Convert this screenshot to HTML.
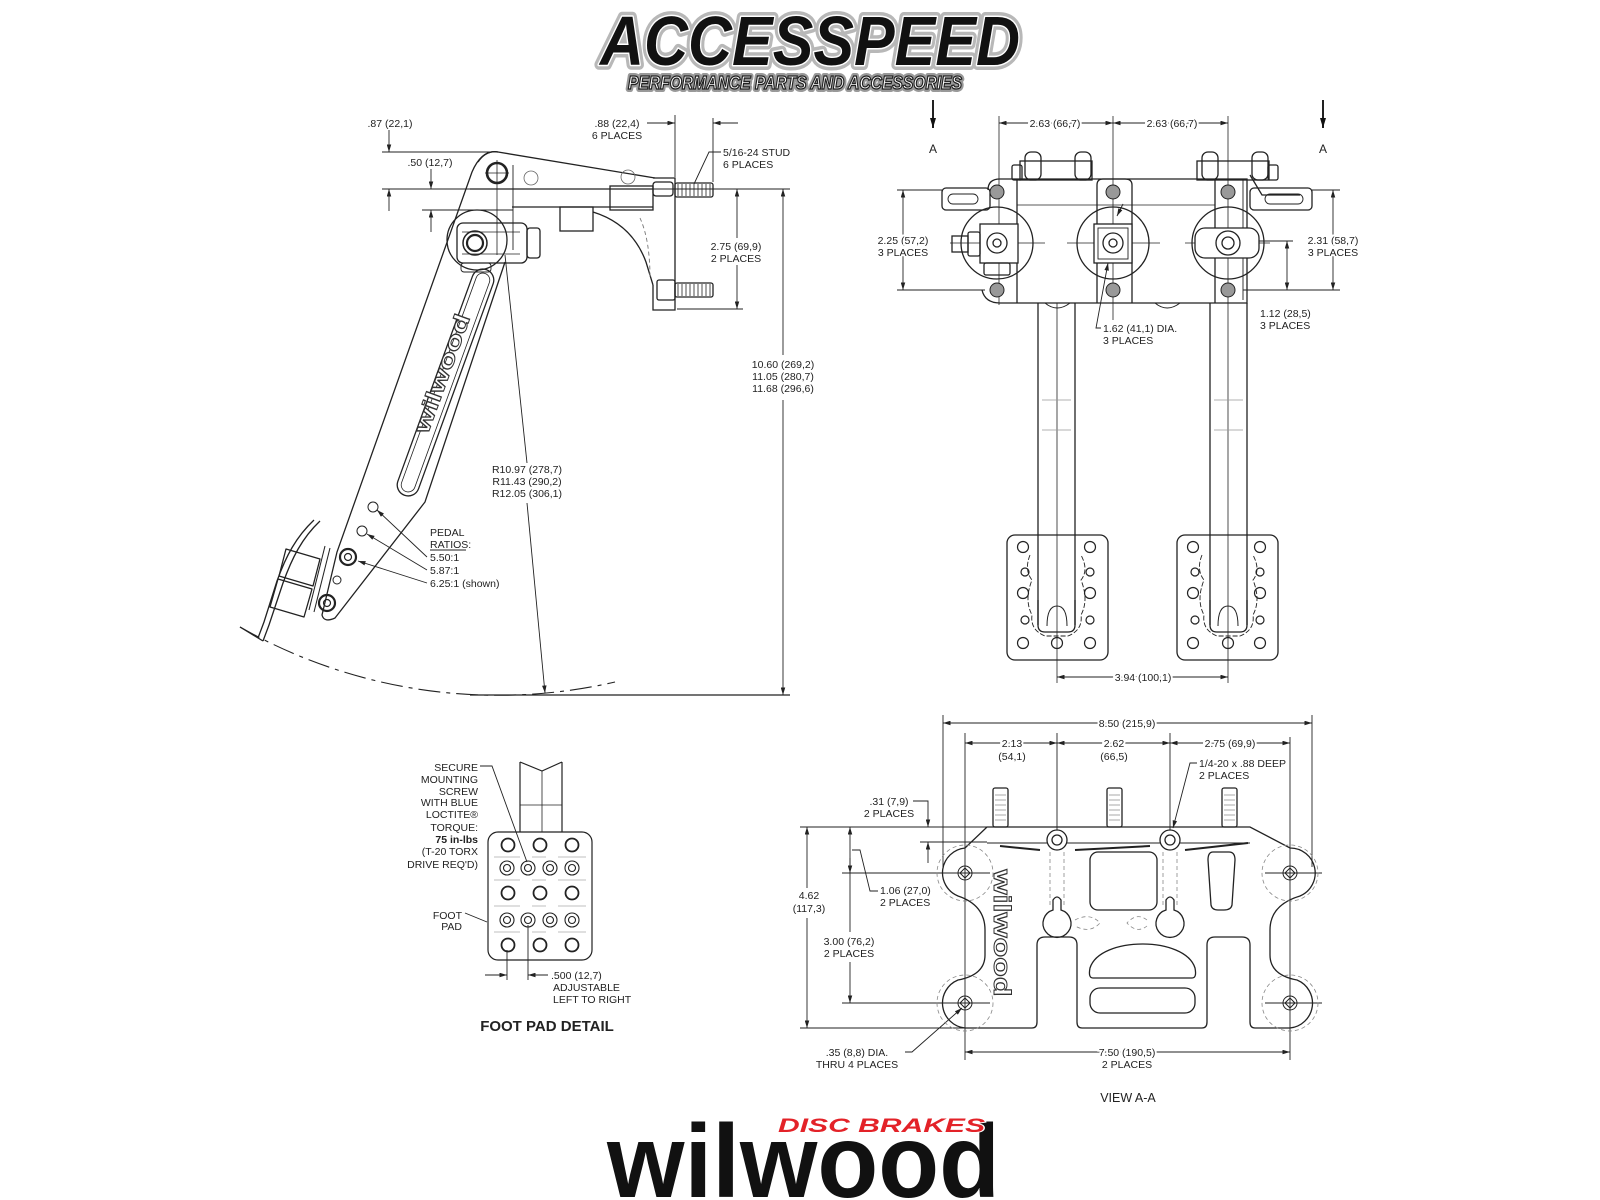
<!DOCTYPE html>
<html><head><meta charset="utf-8"><style>
html,body{margin:0;padding:0;background:#fff;}
svg{display:block;}
text{font-family:"Liberation Sans",Arial,sans-serif;}
.d{font-size:10.5px;}
.h{stroke:#fff;stroke-width:4;paint-order:stroke;}
</style></head><body>
<svg width="1600" height="1200" viewBox="0 0 1600 1200" xmlns="http://www.w3.org/2000/svg" fill="#222">
<defs>
<marker id="a" viewBox="0 0 10 6" refX="10" refY="3" markerWidth="8" markerHeight="4.5" orient="auto-start-reverse" markerUnits="userSpaceOnUse"><path d="M0 0 L10 3 L0 6 Z" fill="#222"/></marker>
<marker id="b" viewBox="0 0 10 6" refX="10" refY="3" markerWidth="11" markerHeight="6" orient="auto" markerUnits="userSpaceOnUse"><path d="M0 0 L10 3 L0 6 Z" fill="#111"/></marker>
</defs>
<rect width="1600" height="1200" fill="#fff"/>

<!-- ACCESSPEED logo -->
<g font-weight="bold" font-style="italic">
<text x="600" y="65" font-size="70" textLength="420" lengthAdjust="spacingAndGlyphs" fill="#111" stroke="#b8b8b8" stroke-width="10" stroke-linejoin="round">ACCESSPEED</text>
<text x="600" y="65" font-size="70" textLength="420" lengthAdjust="spacingAndGlyphs" fill="#111" stroke="#fff" stroke-width="3" paint-order="stroke" stroke-linejoin="round">ACCESSPEED</text>
<text x="628" y="89" font-size="18" textLength="334" lengthAdjust="spacingAndGlyphs" fill="#999" stroke="#999" stroke-width="6" stroke-linejoin="round">PERFORMANCE PARTS AND ACCESSORIES</text>
<text x="628" y="89" font-size="18" textLength="334" lengthAdjust="spacingAndGlyphs" fill="#fff" stroke="#222" stroke-width="1.3">PERFORMANCE PARTS AND ACCESSORIES</text>
</g>

<!-- ================= SIDE VIEW ================= -->
<g stroke="#222" fill="none" stroke-width="0.9">
  <line x1="382" y1="152" x2="492" y2="152"/>
  <line x1="389" y1="130" x2="389" y2="152" marker-end="url(#a)"/>
  <line x1="382" y1="189" x2="790" y2="189"/>
  <line x1="389" y1="211" x2="389" y2="189" marker-end="url(#a)"/>
  <line x1="431" y1="169" x2="431" y2="189" marker-end="url(#a)"/>
  <line x1="422" y1="210" x2="513" y2="210"/>
  <line x1="431" y1="232" x2="431" y2="210" marker-end="url(#a)"/>
  <line x1="647" y1="123" x2="675" y2="123" marker-end="url(#a)"/>
  <line x1="675" y1="115" x2="675" y2="177"/>
  <line x1="713" y1="118" x2="713" y2="182"/>
  <line x1="738" y1="123" x2="713" y2="123" marker-end="url(#a)"/>
  <polyline points="721,152 709,152 694,184"/>
  <line x1="737" y1="238" x2="737" y2="189" marker-end="url(#a)"/>
  <line x1="737" y1="265" x2="737" y2="309" marker-end="url(#a)"/>
  <line x1="677" y1="309" x2="743" y2="309"/>
  <line x1="783" y1="355" x2="783" y2="189" marker-end="url(#a)"/>
  <line x1="783" y1="400" x2="783" y2="695" marker-end="url(#a)"/>
  <line x1="470" y1="695" x2="790" y2="695" stroke-width="1.3"/>
  <path d="M240 627 A522 522 0 0 0 615 682" stroke-dasharray="22 6 4 6" stroke-width="1.1"/>
  <line x1="505" y1="255" x2="527" y2="463"/>
  <line x1="527" y1="503" x2="545" y2="693" marker-end="url(#a)"/>
  <line x1="427" y1="557" x2="377" y2="510" marker-end="url(#a)"/>
  <line x1="427" y1="570" x2="367" y2="534" marker-end="url(#a)"/>
  <line x1="427" y1="583" x2="358" y2="561" marker-end="url(#a)"/>
  <line x1="430" y1="550" x2="466" y2="550"/>
</g>
<g class="d">
  <text x="390" y="127" text-anchor="middle">.87 (22,1)</text>
  <text x="430" y="166" text-anchor="middle">.50 (12,7)</text>
  <text x="617" y="127" text-anchor="middle">.88 (22,4)</text>
  <text x="617" y="139" text-anchor="middle">6 PLACES</text>
  <text x="723" y="156">5/16-24 STUD</text>
  <text x="723" y="168">6 PLACES</text>
  <text x="736" y="250" text-anchor="middle">2.75 (69,9)</text>
  <text x="736" y="262" text-anchor="middle">2 PLACES</text>
  <text x="783" y="368" text-anchor="middle">10.60 (269,2)</text>
  <text x="783" y="380" text-anchor="middle">11.05 (280,7)</text>
  <text x="783" y="392" text-anchor="middle">11.68 (296,6)</text>
  <text x="527" y="473" text-anchor="middle">R10.97 (278,7)</text>
  <text x="527" y="485" text-anchor="middle">R11.43 (290,2)</text>
  <text x="527" y="497" text-anchor="middle">R12.05 (306,1)</text>
  <text x="430" y="536">PEDAL</text>
  <text x="430" y="548">RATIOS:</text>
  <text x="430" y="561">5.50:1</text>
  <text x="430" y="574">5.87:1</text>
  <text x="430" y="587">6.25:1 (shown)</text>
</g>
<!-- bracket -->
<g stroke="#222" fill="none" stroke-width="1.3">
  <path d="M478 162 Q486 150 498 152 L655 178"/>
  <path d="M653 178 L675 178 L675 310 L653 310 L653 285"/>
  <line x1="470" y1="189" x2="653" y2="189"/>
  <line x1="512" y1="207" x2="653" y2="207"/>
  <rect x="610" y="186" width="43" height="24"/>
  <rect x="560" y="207" width="33" height="24"/>
  <path d="M593 212 Q632 224 646 262 L653 285"/>
  <path d="M640 218 Q650 240 650 278" stroke-dasharray="4 3" stroke="#777" stroke-width="0.9"/>
  <rect x="675" y="183" width="38" height="14" rx="2"/>
  <rect x="675" y="283" width="38" height="14" rx="2"/>
  <rect x="657" y="280" width="18" height="20" rx="2"/>
  <rect x="653" y="182" width="20" height="14" rx="3"/>
  <path d="M678 184 V196 M682 184 V196 M686 184 V196 M690 184 V196 M694 184 V196 M698 184 V196 M702 184 V196 M706 184 V196 M710 184 V196 M678 284 V296 M682 284 V296 M686 284 V296 M690 284 V296 M694 284 V296 M698 284 V296 M702 284 V296 M706 284 V296 M710 284 V296" stroke-width="0.8"/>
  <circle cx="531" cy="178" r="7" stroke="#666" stroke-width="0.8"/>
  <circle cx="628" cy="177" r="7" stroke="#666" stroke-width="0.8"/>
  <line x1="497" y1="160" x2="497" y2="255" stroke-width="0.8"/>
  <line x1="513" y1="165" x2="513" y2="250" stroke-width="0.9"/>
</g>
<!-- pedal arm -->
<g stroke="#222" fill="none" stroke-width="1.3">
  <path d="M498 152 C486 150 478 158 472 172 L337 552 L322 615 Q324 623 335 618 L425 502 L505 262"/>
  <circle cx="477" cy="240" r="30"/>
  <circle cx="497" cy="173" r="10" stroke-width="2.6"/>
  <line x1="485" y1="173" x2="509" y2="173" stroke-width="0.7"/>
  <rect x="457" y="223" width="70" height="40" rx="6"/>
  <rect x="527" y="228" width="13" height="30" rx="3"/>
  <line x1="462" y1="232" x2="520" y2="232" stroke-width="0.8"/>
  <line x1="462" y1="254" x2="520" y2="254" stroke-width="0.8"/>
  <circle cx="475" cy="243" r="12" stroke-width="1.5"/>
  <circle cx="475" cy="243" r="8" stroke-width="2.2"/>
  <rect x="461" y="263" width="30" height="9" rx="3" stroke-width="0.9"/>
  <rect x="-120" y="-11" width="240" height="22" rx="11" transform="translate(445.5 382.5) rotate(110)"/>
  <rect x="-116" y="-7" width="232" height="14" rx="7" transform="translate(445.5 382.5) rotate(110)" stroke-width="0.8"/>
  <circle cx="373" cy="507" r="5" stroke-width="1"/>
  <circle cx="362" cy="531" r="5" stroke-width="1"/>
  <circle cx="348" cy="557" r="8" stroke-width="2.2"/>
  <circle cx="348" cy="557" r="3.5" stroke-width="1.2"/>
  <circle cx="337" cy="580" r="4" stroke-width="1"/>
  <circle cx="327" cy="603" r="8" stroke-width="2.2"/>
  <circle cx="327" cy="603" r="3.5" stroke-width="1.2"/>
  <line x1="330" y1="548" x2="314" y2="612" stroke-width="1"/>
  <line x1="325" y1="546" x2="309" y2="610" stroke-width="1"/>
  <path d="M286 549 L320 559 L313 586 L279 576 Z" stroke-linejoin="round"/>
  <path d="M278 579 L312 589 L304 617 L270 607 Z" stroke-linejoin="round"/>
  <path d="M320 521 C302 538 292 558 283 583 L269 625 L263 641"/>
  <path d="M314 520 C296 537 286 556 277 581 L264 622 L258 638"/>
  <line x1="240" y1="627" x2="263" y2="641"/>
</g>
<text x="0" y="0" font-size="22" font-weight="bold" fill="#fff" stroke="#333" stroke-width="1" textLength="125" lengthAdjust="spacingAndGlyphs" text-anchor="middle" transform="translate(449 376) rotate(-70)">wilwood</text>

<!-- ================= FRONT VIEW ================= -->
<g stroke="#222" fill="none" stroke-width="0.9">
  <line x1="933" y1="100" x2="933" y2="128" stroke-width="2" marker-end="url(#b)"/>
  <line x1="1323" y1="100" x2="1323" y2="128" stroke-width="2" marker-end="url(#b)"/>
  <line x1="999" y1="123" x2="1113" y2="123" marker-start="url(#a)" marker-end="url(#a)"/>
  <line x1="1113" y1="123" x2="1228" y2="123" marker-start="url(#a)" marker-end="url(#a)"/>
  <line x1="999" y1="116" x2="999" y2="305" stroke-width="0.8"/>
  <line x1="1113" y1="116" x2="1113" y2="320" stroke-width="0.8"/>
  <line x1="1228" y1="116" x2="1228" y2="683" stroke-width="0.8"/>
  <line x1="1057" y1="303" x2="1057" y2="683" stroke-width="0.8"/>
  <line x1="903" y1="190" x2="903" y2="290" marker-start="url(#a)" marker-end="url(#a)"/>
  <line x1="897" y1="190" x2="942" y2="190"/>
  <line x1="897" y1="290" x2="985" y2="290"/>
  <line x1="1333" y1="190" x2="1333" y2="290" marker-start="url(#a)" marker-end="url(#a)"/>
  <line x1="1312" y1="190" x2="1340" y2="190"/>
  <line x1="1243" y1="290" x2="1340" y2="290"/>
  <line x1="1287" y1="241" x2="1287" y2="290" marker-start="url(#a)" marker-end="url(#a)"/>
  <line x1="1258" y1="241" x2="1293" y2="241"/>
  <polyline points="1101,328 1096,328 1108,263" marker-end="url(#a)"/>
  <line x1="1123" y1="204" x2="1117" y2="216" marker-end="url(#a)"/>
  <line x1="1057" y1="677" x2="1228" y2="677" marker-start="url(#a)" marker-end="url(#a)"/>
  <line x1="950" y1="243" x2="1045" y2="243" stroke-width="0.7"/>
  <line x1="1067" y1="243" x2="1160" y2="243" stroke-width="0.7"/>
  <line x1="1185" y1="243" x2="1270" y2="243" stroke-width="0.7"/>
</g>
<g stroke="#222" fill="none" stroke-width="1.3">
  <rect x="1020" y="161" width="72" height="19"/>
  <rect x="1025" y="152" width="16" height="28" rx="6"/>
  <rect x="1075" y="152" width="16" height="28" rx="6"/>
  <rect x="1012" y="165" width="10" height="15" rx="2"/>
  <rect x="1197" y="161" width="72" height="19"/>
  <rect x="1202" y="152" width="16" height="28" rx="6"/>
  <rect x="1252" y="152" width="16" height="28" rx="6"/>
  <rect x="1268" y="165" width="10" height="15" rx="2"/>
  <path d="M1250 175 L1262 195 L1300 195"/>
  <rect x="942" y="188" width="48" height="22" rx="4"/>
  <rect x="948" y="194" width="30" height="10" rx="5" stroke-width="0.9"/>
  <rect x="1250" y="188" width="62" height="22" rx="4"/>
  <rect x="1265" y="194" width="38" height="10" rx="5" stroke-width="0.9"/>
  <path d="M988 190 Q988 179 1000 179 L1247 179 L1247 303 L1000 303 Q985 303 982 290"/>
  <line x1="1017" y1="179" x2="1017" y2="303"/>
  <line x1="1017" y1="205" x2="1215" y2="205" stroke-width="0.8"/>
  <path d="M1097 303 V185 Q1097 179 1103 179 H1125 Q1132 179 1132 185 V303"/>
  <line x1="1215" y1="179" x2="1215" y2="303"/>
  <path d="M1243 179 V300" stroke-width="0.9"/>
  <path d="M1045 303 Q1057 313 1070 303 M1155 303 Q1167 313 1180 303" stroke-width="1"/>
  <circle cx="997" cy="243" r="36"/>
  <circle cx="1113" cy="243" r="36"/>
  <circle cx="1228" cy="243" r="36"/>
  <rect x="980" y="224" width="38" height="39" fill="#fff"/>
  <rect x="1094" y="224" width="38" height="39" fill="#fff"/>
  <rect x="1098" y="228" width="30" height="31" stroke-width="0.9"/>
  <rect x="1195" y="228" width="64" height="30" rx="10" fill="#fff"/>
  <circle cx="997" cy="243" r="10"/><circle cx="997" cy="243" r="4"/>
  <circle cx="1113" cy="243" r="10"/><circle cx="1113" cy="243" r="4"/>
  <circle cx="1228" cy="243" r="12"/><circle cx="1228" cy="243" r="6"/>
  <rect x="952" y="236" width="16" height="16"/>
  <rect x="968" y="232" width="12" height="24" rx="2"/>
  <rect x="984" y="263" width="26" height="12" rx="2"/>
  <g fill="#999" stroke-width="1">
    <circle cx="997" cy="192" r="7"/><circle cx="1113" cy="192" r="7"/><circle cx="1228" cy="192" r="7"/>
    <circle cx="997" cy="290" r="7"/><circle cx="1113" cy="290" r="7"/><circle cx="1228" cy="290" r="7"/>
  </g>
  <line x1="1038" y1="303" x2="1038" y2="625"/>
  <line x1="1075" y1="303" x2="1075" y2="625"/>
  <line x1="1210" y1="303" x2="1210" y2="625"/>
  <line x1="1247" y1="303" x2="1247" y2="625"/>
  <path d="M1042 400 H1071 M1042 430 H1071 M1214 400 H1243 M1214 430 H1243" stroke="#999" stroke-width="0.7"/>
  <rect x="1007" y="535" width="101" height="125" rx="8"/>
  <rect x="1177" y="535" width="101" height="125" rx="8"/>
  <path d="M1038 600 V625 Q1038 632 1045 632 H1068 Q1075 632 1075 625 V600"/>
  <path d="M1210 600 V625 Q1210 632 1217 632 H1240 Q1247 632 1247 625 V600"/>
  <path d="M1030 555 Q1024 570 1032 580 Q1024 600 1032 615 Q1030 630 1045 636 H1068 Q1083 630 1081 615 Q1089 600 1081 580 Q1089 570 1081 555" stroke-width="0.9" stroke-dasharray="5 2"/>
  <path d="M1202 555 Q1196 570 1204 580 Q1196 600 1204 615 Q1202 630 1217 636 H1240 Q1255 630 1253 615 Q1261 600 1253 580 Q1261 570 1253 555" stroke-width="0.9" stroke-dasharray="5 2"/>
  <path d="M1047 626 Q1047 606 1057 606 Q1067 606 1067 626 M1218 626 Q1218 606 1228 606 Q1238 606 1238 626" stroke-width="1"/>
  <g stroke-width="1.2">
    <circle cx="1023" cy="547" r="5.5"/><circle cx="1090" cy="547" r="5.5"/>
    <circle cx="1023" cy="593" r="5.5"/><circle cx="1090" cy="593" r="5.5"/>
    <circle cx="1023" cy="643" r="5.5"/><circle cx="1057" cy="643" r="5.5"/><circle cx="1090" cy="643" r="5.5"/>
    <circle cx="1025" cy="572" r="4"/><circle cx="1090" cy="572" r="4"/>
    <circle cx="1025" cy="620" r="4"/><circle cx="1090" cy="620" r="4"/>
    <circle cx="1193" cy="547" r="5.5"/><circle cx="1260" cy="547" r="5.5"/>
    <circle cx="1193" cy="593" r="5.5"/><circle cx="1260" cy="593" r="5.5"/>
    <circle cx="1193" cy="643" r="5.5"/><circle cx="1228" cy="643" r="5.5"/><circle cx="1260" cy="643" r="5.5"/>
    <circle cx="1195" cy="572" r="4"/><circle cx="1260" cy="572" r="4"/>
    <circle cx="1195" cy="620" r="4"/><circle cx="1260" cy="620" r="4"/>
  </g>
</g>
<g class="d">
  <text x="933" y="153" text-anchor="middle" font-size="12">A</text>
  <text x="1323" y="153" text-anchor="middle" font-size="12">A</text>
  <text x="1055" y="127" text-anchor="middle" class="h">2.63 (66,7)</text>
  <text x="1172" y="127" text-anchor="middle" class="h">2.63 (66,7)</text>
  <text x="903" y="244" text-anchor="middle" class="h">2.25 (57,2)</text>
  <text x="903" y="256" text-anchor="middle" class="h">3 PLACES</text>
  <text x="1333" y="244" text-anchor="middle" class="h">2.31 (58,7)</text>
  <text x="1333" y="256" text-anchor="middle" class="h">3 PLACES</text>
  <text x="1260" y="317">1.12 (28,5)</text>
  <text x="1260" y="329">3 PLACES</text>
  <text x="1103" y="332">1.62 (41,1) DIA.</text>
  <text x="1103" y="344">3 PLACES</text>
  <text x="1143" y="681" text-anchor="middle" class="h">3.94 (100,1)</text>
</g>

<!-- ================= FOOT PAD DETAIL ================= -->
<g stroke="#222" fill="none" stroke-width="1.2">
  <polyline points="520,762 520,832"/>
  <polyline points="562,762 562,832"/>
  <polyline points="520,762 542,771 562,762"/>
  <line x1="542" y1="771" x2="542" y2="832" stroke-width="0.8"/>
  <line x1="520" y1="805" x2="562" y2="805" stroke-width="0.8"/>
  <rect x="488" y="832" width="104" height="128" rx="10" fill="#fff"/>
  <g stroke-width="1.8">
    <circle cx="508" cy="845" r="6.5"/><circle cx="540" cy="845" r="6.5"/><circle cx="572" cy="845" r="6.5"/>
    <circle cx="508" cy="893" r="6.5"/><circle cx="540" cy="893" r="6.5"/><circle cx="572" cy="893" r="6.5"/>
    <circle cx="508" cy="945" r="6.5"/><circle cx="540" cy="945" r="6.5"/><circle cx="572" cy="945" r="6.5"/>
  </g>
  <g stroke-width="1.1">
    <circle cx="507" cy="868" r="7"/><circle cx="507" cy="868" r="3.5"/>
    <circle cx="528" cy="868" r="7"/><circle cx="528" cy="868" r="3.5"/>
    <circle cx="550" cy="868" r="7"/><circle cx="550" cy="868" r="3.5"/>
    <circle cx="572" cy="868" r="7"/><circle cx="572" cy="868" r="3.5"/>
    <circle cx="507" cy="920" r="7"/><circle cx="507" cy="920" r="3.5"/>
    <circle cx="528" cy="920" r="7"/><circle cx="528" cy="920" r="3.5"/>
    <circle cx="550" cy="920" r="7"/><circle cx="550" cy="920" r="3.5"/>
    <circle cx="572" cy="920" r="7"/><circle cx="572" cy="920" r="3.5"/>
  </g>
  <path d="M494 857 H520 M532 857 H546 M558 857 H586 M494 880 H520 M532 880 H546 M558 880 H586 M494 906 H520 M532 906 H546 M558 906 H586 M494 932 H520 M532 932 H546 M558 932 H586" stroke="#aaa" stroke-width="0.8"/>
  <g stroke-width="0.9">
    <polyline points="480,766 492,766 527,862"/>
    <polyline points="465,913 487,922"/>
    <line x1="507" y1="950" x2="507" y2="980"/>
    <line x1="528" y1="925" x2="528" y2="980"/>
    <line x1="485" y1="975" x2="507" y2="975" marker-end="url(#a)"/>
    <line x1="548" y1="975" x2="528" y2="975" marker-end="url(#a)"/>
  </g>
</g>
<g class="d" font-size="10" text-anchor="end">
  <text x="478" y="771">SECURE</text>
  <text x="478" y="783">MOUNTING</text>
  <text x="478" y="795">SCREW</text>
  <text x="478" y="806">WITH BLUE</text>
  <text x="478" y="818">LOCTITE®</text>
  <text x="478" y="831">TORQUE:</text>
  <text x="478" y="843" font-weight="bold">75 in-lbs</text>
  <text x="478" y="855">(T-20 TORX</text>
  <text x="478" y="868">DRIVE REQ'D)</text>
  <text x="462" y="919">FOOT</text>
  <text x="462" y="930">PAD</text>
</g>
<g class="d">
  <text x="551" y="979">.500 (12,7)</text>
  <text x="553" y="991">ADJUSTABLE</text>
  <text x="553" y="1003">LEFT TO RIGHT</text>
</g>
<text x="547" y="1031" text-anchor="middle" font-size="15" font-weight="bold">FOOT PAD DETAIL</text>

<!-- ================= VIEW A-A ================= -->
<g stroke="#222" fill="none" stroke-width="0.9">
  <line x1="943" y1="723" x2="1312" y2="723" marker-start="url(#a)" marker-end="url(#a)"/>
  <line x1="943" y1="715" x2="943" y2="867"/>
  <line x1="1312" y1="715" x2="1312" y2="867"/>
  <line x1="965" y1="743" x2="1057" y2="743" marker-start="url(#a)" marker-end="url(#a)"/>
  <line x1="1057" y1="743" x2="1170" y2="743" marker-start="url(#a)" marker-end="url(#a)"/>
  <line x1="1170" y1="743" x2="1290" y2="743" marker-start="url(#a)" marker-end="url(#a)"/>
  <line x1="965" y1="733" x2="965" y2="1060"/>
  <line x1="1057" y1="733" x2="1057" y2="835"/>
  <line x1="1170" y1="733" x2="1170" y2="830"/>
  <line x1="1290" y1="737" x2="1290" y2="1060"/>
  <polyline points="1197,763 1190,763 1173,828" marker-end="url(#a)"/>
  <polyline points="913,801 928,801 928,827" marker-end="url(#a)"/>
  <line x1="928" y1="863" x2="928" y2="842" marker-end="url(#a)"/>
  <line x1="920" y1="842" x2="987" y2="842"/>
  <line x1="800" y1="827" x2="987" y2="827"/>
  <line x1="800" y1="1028" x2="965" y2="1028"/>
  <line x1="807" y1="888" x2="807" y2="827" marker-end="url(#a)"/>
  <line x1="807" y1="918" x2="807" y2="1028" marker-end="url(#a)"/>
  <line x1="850" y1="932" x2="850" y2="827" marker-end="url(#a)"/>
  <line x1="850" y1="962" x2="850" y2="1003" marker-end="url(#a)"/>
  <line x1="842" y1="873" x2="990" y2="873"/>
  <line x1="842" y1="1003" x2="990" y2="1003"/>
  <line x1="1265" y1="873" x2="1322" y2="873"/>
  <line x1="1265" y1="1003" x2="1322" y2="1003"/>
  <line x1="850" y1="858" x2="850" y2="873" marker-end="url(#a)"/>
  <polyline points="878,891 870,891 860,850 852,850"/>
  <polyline points="905,1052 912,1052 962,1008" marker-end="url(#a)"/>
  <line x1="965" y1="1052" x2="1290" y2="1052" marker-start="url(#a)" marker-end="url(#a)"/>
</g>
<g stroke="#222" fill="none" stroke-width="1.3">
  <path d="M987 827 L1250 827 L1290 848 A25 25 0 0 1 1300 896 Q1270 905 1270 930 L1270 955 Q1270 975 1297 980 A25 25 0 0 1 1290 1028 L1255 1028 Q1250 1028 1250 1022 L1250 945 Q1250 937 1242 937 L1215 937 Q1207 937 1207 945 L1207 1022 Q1207 1028 1202 1028 L1082 1028 Q1077 1028 1077 1022 L1077 945 Q1077 937 1069 937 L1045 937 Q1037 937 1037 945 L1037 1022 Q1037 1028 1032 1028 L965 1028 A25 25 0 0 1 958 980 Q985 975 985 955 L985 930 Q985 905 958 896 A25 25 0 0 1 965 848 Z"/>
  <path d="M987 843 L1250 843" stroke-width="1"/>
  <path d="M1000 846 L1040 850 M1075 850 L1150 846 M1185 850 L1248 843" stroke-width="2"/>
  <rect x="993" y="788" width="15" height="39" rx="2"/>
  <rect x="1107" y="788" width="15" height="39" rx="2"/>
  <rect x="1222" y="788" width="15" height="39" rx="2"/>
  <path d="M995 795 H1006 M995 800 H1006 M995 805 H1006 M995 810 H1006 M995 815 H1006 M995 820 H1006 M1109 795 H1120 M1109 800 H1120 M1109 805 H1120 M1109 810 H1120 M1109 815 H1120 M1109 820 H1120 M1224 795 H1235 M1224 800 H1235 M1224 805 H1235 M1224 810 H1235 M1224 815 H1235 M1224 820 H1235" stroke-width="0.6" stroke="#555"/>
  <circle cx="1057" cy="840" r="10" fill="#fff"/><circle cx="1057" cy="840" r="5"/>
  <circle cx="1170" cy="840" r="10" fill="#fff"/><circle cx="1170" cy="840" r="5"/>
  <rect x="1090" y="852" width="67" height="58" rx="8"/>
  <path d="M1213 852 H1229 Q1235 852 1235 860 L1232 905 Q1231 910 1224 910 H1218 Q1212 910 1211 905 L1208 860 Q1208 852 1213 852 Z"/>
  <path d="M1053 900 L1053 910 A14 14 0 1 0 1061 910 L1061 900 Q1057 894 1053 900 Z"/>
  <path d="M1166 900 L1166 910 A14 14 0 1 0 1174 910 L1174 900 Q1170 894 1166 900 Z"/>
  <path d="M1093 978 Q1088 978 1090 968 C1100 936 1185 936 1195 968 Q1197 978 1192 978 Z"/>
  <rect x="1090" y="988" width="105" height="25" rx="10"/>
  <g stroke-width="1">
    <circle cx="965" cy="873" r="7"/><circle cx="965" cy="1003" r="7"/>
    <circle cx="1290" cy="873" r="7"/><circle cx="1290" cy="1003" r="7"/>
    <path d="M965 868 L970 873 L965 878 L960 873 Z M965 998 L970 1003 L965 1008 L960 1003 Z M1290 868 L1295 873 L1290 878 L1285 873 Z M1290 998 L1295 1003 L1290 1008 L1285 1003 Z"/>
  </g>
  <g stroke="#888" stroke-width="0.8" stroke-dasharray="4 3">
    <circle cx="965" cy="873" r="28"/><circle cx="965" cy="1003" r="28"/>
    <circle cx="1290" cy="873" r="28"/><circle cx="1290" cy="1003" r="28"/>
    <path d="M1050 852 V905 M1064 852 V905 M1163 852 V905 M1177 852 V905"/>
    <path d="M1075 920 Q1090 912 1100 923 Q1090 934 1075 926 M1147 920 Q1137 912 1127 923 Q1137 934 1147 926"/>
  </g>
</g>
<text x="0" y="0" font-size="24" font-weight="bold" fill="#fff" stroke="#333" stroke-width="1" textLength="127" lengthAdjust="spacingAndGlyphs" text-anchor="middle" transform="translate(994 933) rotate(90)">wilwood</text>
<g class="d">
  <text x="1127" y="727" text-anchor="middle" class="h">8.50 (215,9)</text>
  <text x="1012" y="747" text-anchor="middle" class="h">2.13</text>
  <text x="1012" y="760" text-anchor="middle">(54,1)</text>
  <text x="1114" y="747" text-anchor="middle" class="h">2.62</text>
  <text x="1114" y="760" text-anchor="middle">(66,5)</text>
  <text x="1230" y="747" text-anchor="middle" class="h">2.75 (69,9)</text>
  <text x="1199" y="767">1/4-20 x .88 DEEP</text>
  <text x="1199" y="779">2 PLACES</text>
  <text x="889" y="805" text-anchor="middle">.31 (7,9)</text>
  <text x="889" y="817" text-anchor="middle">2 PLACES</text>
  <text x="809" y="899" text-anchor="middle">4.62</text>
  <text x="809" y="912" text-anchor="middle">(117,3)</text>
  <text x="880" y="894">1.06 (27,0)</text>
  <text x="880" y="906">2 PLACES</text>
  <text x="849" y="945" text-anchor="middle">3.00 (76,2)</text>
  <text x="849" y="957" text-anchor="middle">2 PLACES</text>
  <text x="857" y="1056" text-anchor="middle">.35 (8,8) DIA.</text>
  <text x="857" y="1068" text-anchor="middle">THRU 4 PLACES</text>
  <text x="1127" y="1056" text-anchor="middle" class="h">7.50 (190,5)</text>
  <text x="1127" y="1068" text-anchor="middle">2 PLACES</text>
  <text x="1128" y="1102" text-anchor="middle" font-size="12.5">VIEW A-A</text>
</g>

<!-- ================= WILWOOD LOGO ================= -->
<text x="607" y="1197" font-size="104" font-weight="bold" fill="#111" textLength="393" lengthAdjust="spacingAndGlyphs">wilwood</text>
<text x="778" y="1132" font-size="19.5" font-weight="bold" font-style="italic" fill="#e32228" stroke="#fff" stroke-width="2" paint-order="stroke" textLength="207" lengthAdjust="spacingAndGlyphs">DISC BRAKES</text>
</svg>
</body></html>
